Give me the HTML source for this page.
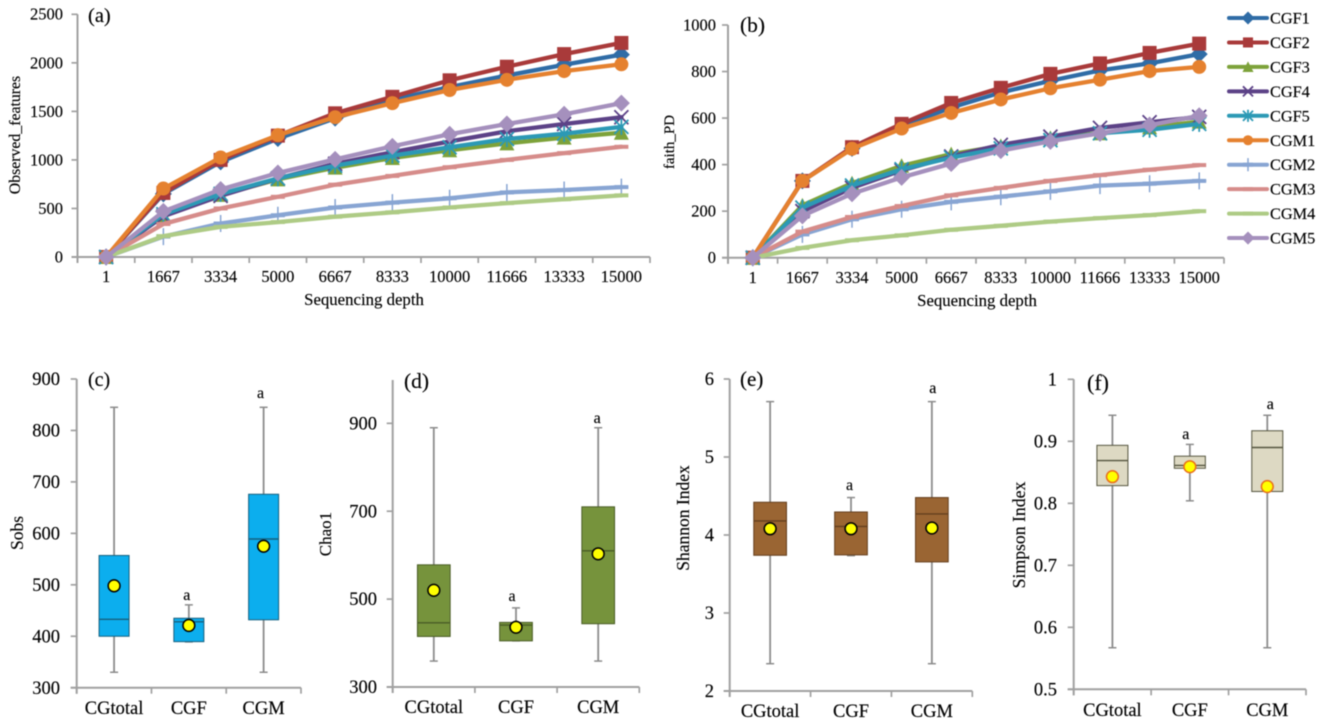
<!DOCTYPE html>
<html lang="en">
<head>
<meta charset="utf-8">
<title>Alpha diversity rarefaction curves and box plots</title>
<style>
html,body{margin:0;padding:0;background:#fff;width:1325px;height:726px;overflow:hidden}
svg{display:block;filter:blur(0.45px)}
text{font-family:"Liberation Serif",serif;fill:#000;stroke:#000;stroke-width:0.15px}
</style>
</head>
<body>
<svg id="figure" width="1325" height="726" viewBox="0 0 1325 726" xmlns="http://www.w3.org/2000/svg"></svg>
<script>
// ---- Rarefaction data ----
const depthCategories = ['1','1667','3334','5000','6667','8333','10000','11666','13333','15000'];
const seriesNames = ['CGF1','CGF2','CGF3','CGF4','CGF5','CGM1','CGM2','CGM3','CGM4','CGM5'];

const observedCGF1 = [0,650,980,1220,1430,1620,1750,1870,1980,2085];
const observedCGF2 = [0,660,1000,1250,1480,1650,1820,1960,2090,2205];
const observedCGF3 = [0,430,640,800,920,1020,1100,1170,1230,1280];
const observedCGF4 = [0,420,630,810,960,1080,1190,1295,1370,1440];
const observedCGF5 = [0,440,650,810,940,1045,1130,1215,1270,1340];
const observedCGM1 = [0,705,1025,1255,1440,1585,1720,1825,1915,1985];
const observedCGM2 = [0,210,345,430,510,560,605,665,690,720];
const observedCGM3 = [0,340,500,620,745,835,925,1000,1070,1135];
const observedCGM4 = [0,215,310,360,415,460,510,555,595,635];
const observedCGM5 = [0,470,695,865,1005,1140,1265,1370,1470,1585];

const faithCGF1 = [0,330,470,565,645,710,760,805,835,875];
const faithCGF2 = [0,330,475,575,665,730,790,835,880,920];
const faithCGF3 = [0,225,320,395,445,480,515,535,560,585];
const faithCGF4 = [0,200,300,375,435,485,520,558,582,605];
const faithCGF5 = [0,215,310,380,430,470,505,535,550,575];
const faithCGM1 = [0,330,468,555,622,680,728,765,802,820];
const faithCGM2 = [0,100,165,208,240,262,285,310,318,330];
const faithCGM3 = [0,112,175,222,268,300,330,355,378,398];
const faithCGM4 = [0,42,75,96,120,137,155,170,183,200];
const faithCGM5 = [0,180,275,345,405,460,500,535,570,610];

const observedTicks = [0,500,1000,1500,2000,2500];
const faithTicks = [0,200,400,600,800,1000];

// ---- Box plot data ----
const groupCategories = ['CGtotal','CGF','CGM'];

const sobsLow = [330,389,330];
const sobsQ1 = [400,389.5,432];
const sobsMedian = [433,428,589];
const sobsQ3 = [557,435,676];
const sobsHigh = [845,461,845];
const sobsMean = [498,421,575];
const sobsTicks = [300,400,500,600,700,800,900];

const chaoLow = [359,405,359];
const chaoQ1 = [415,405,444];
const chaoMedian = [446,441,610];
const chaoQ3 = [578,447,710];
const chaoHigh = [890,480,890];
const chaoMean = [520,436,603];
const chaoTicks = [300,500,700,900];

const shannonLow = [2.35,3.735,2.35];
const shannonQ1 = [3.74,3.745,3.655];
const shannonMedian = [4.18,4.11,4.27];
const shannonQ3 = [4.42,4.295,4.48];
const shannonHigh = [5.71,4.48,5.71];
const shannonMean = [4.08,4.08,4.09];
const shannonTicks = [2,3,4,5,6];

const simpsonLow = [0.567,0.804,0.567];
const simpsonQ1 = [0.8285,0.8565,0.819];
const simpsonMedian = [0.869,0.861,0.89];
const simpsonQ3 = [0.8935,0.876,0.917];
const simpsonHigh = [0.942,0.895,0.942];
const simpsonMean = [0.843,0.859,0.827];
const simpsonTicks = ['0.5','0.6','0.7','0.8','0.9','1'];

const sigLabels = ['', 'a', 'a'];

// ---- Drawing helpers ----
const NS = 'http://www.w3.org/2000/svg';
const root = document.getElementById('figure');
const AXIS = '#a0a0a0';

function make(tag, attrs, parent, content) {
  const node = document.createElementNS(NS, tag);
  for (const key in attrs) node.setAttribute(key, attrs[key]);
  if (content !== undefined) node.textContent = content;
  parent.appendChild(node);
  return node;
}

function label(parent, name, x, y, str, size, anchor, rotate) {
  const attrs = {x: x, y: y, 'font-size': size, 'text-anchor': anchor || 'middle'};
  if (rotate) attrs.transform = 'rotate(-90 ' + x + ' ' + y + ')';
  const t = make('text', attrs, parent, str);
  
  
  return t;
}

const seriesStyle = {
  CGF1: {color: '#2f6ca6', marker: 'diamond'},
  CGF2: {color: '#a93a3a', marker: 'square'},
  CGF3: {color: '#7da23a', marker: 'triangle'},
  CGF4: {color: '#5c4287', marker: 'cross'},
  CGF5: {color: '#2c99b5', marker: 'star'},
  CGM1: {color: '#e5812f', marker: 'circle'},
  CGM2: {color: '#88a5d3', marker: 'dash'},
  CGM3: {color: '#d68c8a', marker: 'minus'},
  CGM4: {color: '#aecb85', marker: 'minus'},
  CGM5: {color: '#a590bd', marker: 'diamond'}
};

function marker(parent, kind, x, y, color, k) {
  const g = make('g', {}, parent);
  const s = 7 * k;
  if (kind === 'diamond') {
    make('polygon', {points: [x, y - s - 1.5, x + s + 1.5, y, x, y + s + 1.5, x - s - 1.5, y].join(' '), fill: color}, g);
  } else if (kind === 'square') {
    make('rect', {x: x - s, y: y - s, width: 2 * s, height: 2 * s, fill: color}, g);
  } else if (kind === 'triangle') {
    make('polygon', {points: [x, y - s - 0.5, x + s + 0.5, y + s, x - s - 0.5, y + s].join(' '), fill: color}, g);
  } else if (kind === 'circle') {
    make('circle', {cx: x, cy: y, r: s, fill: color}, g);
  } else if (kind === 'cross') {
    make('path', {d: `M${x - s} ${y - s}L${x + s} ${y + s}M${x + s} ${y - s}L${x - s} ${y + s}`, stroke: color, 'stroke-width': 1.8, fill: 'none'}, g);
  } else if (kind === 'star') {
    make('path', {d: `M${x - s} ${y - s}L${x + s} ${y + s}M${x + s} ${y - s}L${x - s} ${y + s}M${x} ${y - s - 1}L${x} ${y + s + 1}`, stroke: color, 'stroke-width': 1.8, fill: 'none'}, g);
  } else if (kind === 'dash') {
    make('path', {d: `M${x} ${y - s - 1.5}L${x} ${y + s + 1.5}M${x - s} ${y}L${x + s} ${y}`, stroke: color, 'stroke-width': 1.5, fill: 'none'}, g);
    make('path', {d: `M${x - s} ${y}L${x + s} ${y}`, stroke: color, 'stroke-width': 4, fill: 'none'}, g);
  } else if (kind === 'minus') {
    make('path', {d: `M${x - s} ${y}L${x + s} ${y}`, stroke: color, 'stroke-width': 4, fill: 'none'}, g);
  }
  return g;
}

function drawAxes(g, frame, ticks, categories, fontSize, labelRight, labelY, prefix) {
  const yScale = v => frame.bottom - (v - frame.min) / (frame.max - frame.min) * (frame.bottom - frame.top);
  const band = (frame.right - frame.left) / categories.length;
  const xScale = i => frame.left + band * (i + 0.5);

  const yAxis = make('line', {x1: frame.left, x2: frame.left, y1: frame.top, y2: frame.bottom + 6, stroke: AXIS, 'stroke-width': 2}, g);
  
  

  const xAxis = make('line', {x1: frame.left - 6, x2: frame.right, y1: frame.bottom, y2: frame.bottom, stroke: AXIS, 'stroke-width': 2}, g);
  
  

  ticks.forEach(tick => {
    const y = yScale(Number(tick));
    make('line', {x1: frame.left - 6, x2: frame.left, y1: y, y2: y, stroke: AXIS, 'stroke-width': 1.7}, g);
    label(g, prefix + '-y-tick-label', labelRight, y + fontSize * 0.33, String(tick), fontSize, 'end');
  });
  for (let i = 0; i <= categories.length; i++) {
    const x = frame.left + band * i;
    make('line', {x1: x, x2: x, y1: frame.bottom, y2: frame.bottom + 6, stroke: AXIS, 'stroke-width': 1.7}, g);
  }
  categories.forEach((cat, i) => {
    label(g, prefix + '-x-tick-label', xScale(i), labelY, cat, fontSize, 'middle');
  });
  return {xScale, yScale, band};
}

function drawLinePanel(prefix, frame, ticks, seriesValues, opts) {
  const g = make('g', {}, root);
  
  
  const axes = drawAxes(g, frame, ticks, depthCategories, opts.fontSize, opts.labelRight, opts.labelY, prefix);

  seriesNames.forEach((name, s) => {
    const style = seriesStyle[name];
    const values = seriesValues[s];
    const sg = make('g', {}, g);
    
    
    const pts = values.map((v, i) => axes.xScale(i).toFixed(1) + ',' + axes.yScale(v).toFixed(1)).join(' ');
    make('polyline', {points: pts, fill: 'none', stroke: style.color, 'stroke-width': 4.3, 'stroke-linejoin': 'round', 'stroke-linecap': 'round'}, sg);
    values.forEach((v, i) => {
      const m = marker(sg, style.marker, axes.xScale(i), axes.yScale(v), style.color, 1);
      
      
    });
  });

  label(g, prefix + '-x-axis-title', opts.xTitleX, opts.xTitleY, 'Sequencing depth', 16.8);
  label(g, prefix + '-y-axis-title', opts.yTitleX, opts.yTitleY, opts.yTitle, opts.yTitleSize, 'middle', true);
  label(g, prefix + '-panel-label', opts.tagX, opts.tagY, opts.tag, opts.tagSize, 'start');
}

function drawBoxPanel(prefix, frame, ticks, stats, style, opts) {
  const g = make('g', {}, root);
  
  
  const axes = drawAxes(g, frame, ticks, groupCategories, 18.5, opts.labelRight, opts.labelY, prefix);

  groupCategories.forEach((cat, i) => {
    const x = axes.xScale(i);
    const hw = opts.boxWidth / 2;
    const yLow = axes.yScale(stats.low[i]);
    const yHigh = axes.yScale(stats.high[i]);
    const yQ1 = axes.yScale(stats.q1[i]);
    const yQ3 = axes.yScale(stats.q3[i]);
    const yMed = axes.yScale(stats.median[i]);
    const yMean = axes.yScale(stats.mean[i]);
    const bg = make('g', {}, g);
    
    
    make('line', {x1: x, x2: x, y1: yHigh, y2: yLow, stroke: '#8c8c8c', 'stroke-width': 1.8}, bg);
    make('line', {x1: x - 4, x2: x + 4, y1: yHigh, y2: yHigh, stroke: '#8c8c8c', 'stroke-width': 1.5}, bg);
    make('line', {x1: x - 4, x2: x + 4, y1: yLow, y2: yLow, stroke: '#8c8c8c', 'stroke-width': 1.5}, bg);
    make('rect', {x: x - hw, y: yQ3, width: 2 * hw, height: yQ1 - yQ3, fill: style.fill, stroke: style.edge, 'stroke-width': 1}, bg);
    make('line', {x1: x - hw, x2: x + hw, y1: yMed, y2: yMed, stroke: style.edge, 'stroke-width': 1.4}, bg);
    const dot = make('circle', {cx: x, cy: yMean, r: 5.9, fill: '#ffff00', stroke: style.dot, 'stroke-width': 1.5}, bg);
    
    
    if (sigLabels[i]) {
      label(bg, prefix + '-significance-' + cat.toLowerCase(), x + opts.sigDx[i], opts.sigY[i], sigLabels[i], 16);
    }
  });

  label(g, prefix + '-y-axis-title', opts.yTitleX, opts.yTitleY, opts.yTitle, opts.yTitleSize, 'middle', true);
  label(g, prefix + '-panel-label', opts.tagX, opts.tagY, opts.tag, opts.tagSize, 'start');
}

// ---- Panels ----
drawLinePanel('panel-a', {left: 77.5, right: 650, top: 14.3, bottom: 257, min: 0, max: 2500},
  observedTicks,
  [observedCGF1, observedCGF2, observedCGF3, observedCGF4, observedCGF5, observedCGM1, observedCGM2, observedCGM3, observedCGM4, observedCGM5],
  {fontSize: 16.5, labelRight: 63, labelY: 282, xTitleX: 364, xTitleY: 305, yTitle: 'Observed_features', yTitleX: 20, yTitleY: 135, yTitleSize: 15.8, tag: '(a)', tagX: 88, tagY: 22, tagSize: 20.5});

drawLinePanel('panel-b', {left: 728, right: 1224, top: 25, bottom: 257.7, min: 0, max: 1000},
  faithTicks,
  [faithCGF1, faithCGF2, faithCGF3, faithCGF4, faithCGF5, faithCGM1, faithCGM2, faithCGM3, faithCGM4, faithCGM5],
  {fontSize: 16.5, labelRight: 716, labelY: 283, xTitleX: 977, xTitleY: 306, yTitle: 'faith_PD', yTitleX: 674, yTitleY: 142, yTitleSize: 15, tag: '(b)', tagX: 740, tagY: 32, tagSize: 21.5});

drawBoxPanel('panel-c', {left: 76.7, right: 301, top: 379, bottom: 687.7, min: 300, max: 900},
  sobsTicks,
  {low: sobsLow, q1: sobsQ1, median: sobsMedian, q3: sobsQ3, high: sobsHigh, mean: sobsMean},
  {fill: '#0caeee', edge: '#17607f', dot: '#000'},
  {boxWidth: 30, labelRight: 60, labelY: 714, sigDx: [0, -2, -3], sigY: [0, 600, 398], yTitle: 'Sobs', yTitleX: 23, yTitleY: 533, yTitleSize: 17.5, tag: '(c)', tagX: 88, tagY: 386, tagSize: 20});

drawBoxPanel('panel-d', {left: 392.7, right: 639.3, top: 380, bottom: 687, min: 300, max: 998.6},
  chaoTicks,
  {low: chaoLow, q1: chaoQ1, median: chaoMedian, q3: chaoQ3, high: chaoHigh, mean: chaoMean},
  {fill: '#76933c', edge: '#4a5d26', dot: '#000'},
  {boxWidth: 32.7, labelRight: 377, labelY: 713, sigDx: [0, -4, -1], sigY: [0, 601, 423], yTitle: 'Chao1', yTitleX: 331, yTitleY: 534, yTitleSize: 17, tag: '(d)', tagX: 404, tagY: 388, tagSize: 21.5});

drawBoxPanel('panel-e', {left: 729.7, right: 972.3, top: 379, bottom: 691, min: 2, max: 6},
  shannonTicks,
  {low: shannonLow, q1: shannonQ1, median: shannonMedian, q3: shannonQ3, high: shannonHigh, mean: shannonMean},
  {fill: '#9a6533', edge: '#643f1e', dot: '#000'},
  {boxWidth: 32.7, labelRight: 714, labelY: 717, sigDx: [0, -1.5, 1], sigY: [0, 490, 393], yTitle: 'Shannon Index', yTitleX: 689, yTitleY: 518, yTitleSize: 17.5, tag: '(e)', tagX: 740, tagY: 386, tagSize: 21});

drawBoxPanel('panel-f', {left: 1073.7, right: 1306, top: 379.3, bottom: 689.3, min: 0.5, max: 1},
  simpsonTicks,
  {low: simpsonLow, q1: simpsonQ1, median: simpsonMedian, q3: simpsonQ3, high: simpsonHigh, mean: simpsonMean},
  {fill: '#ddd9c3', edge: '#55553f', dot: '#e9701a'},
  {boxWidth: 31, labelRight: 1057, labelY: 716, sigDx: [0, -4, 3], sigY: [0, 439, 409], yTitle: 'Simpson Index', yTitleX: 1025, yTitleY: 535, yTitleSize: 17.7, tag: '(f)', tagX: 1087, tagY: 390, tagSize: 22});

// ---- Legend ----
const legend = make('g', {}, root);


seriesNames.forEach((name, i) => {
  const style = seriesStyle[name];
  const y = 18 + i * 24.45;
  const entry = make('g', {}, legend);
  
  
  make('line', {x1: 1229, x2: 1267, y1: y, y2: y, stroke: style.color, 'stroke-width': 4, 'stroke-linecap': 'round'}, entry);
  marker(entry, style.marker, 1248, y, style.color, 0.72);
  label(entry, 'legend-label-' + name.toLowerCase(), 1270, y + 5.5, name, 16.3, 'start');
});
</script>
</body>
</html>
